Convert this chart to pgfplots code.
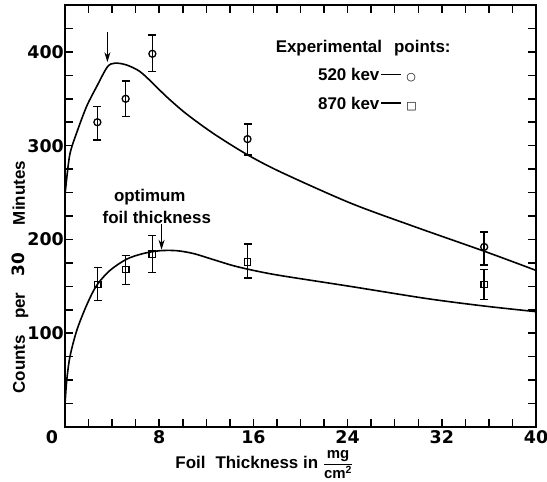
\documentclass[border=0pt]{standalone}
\usepackage{fontspec}
\setmainfont{Liberation Sans}
\newfontfamily\tickfont{DejaVu Sans}
\usepackage{amsmath}
\usepackage{pgfplots}
\pgfplotsset{compat=1.18}
\usetikzlibrary{arrows.meta}

\begin{document}
\begin{tikzpicture}[font=\bfseries\fontsize{17}{20}\selectfont]
\begin{axis}[
    scale only axis,
    width=471bp, height=422bp,
    xmin=0, xmax=40, ymin=0, ymax=450,
    axis line style={line width=2bp},
    xtick={0,8,...,40},
    xticklabels={\makebox[0pt][r]{0\hspace{7bp}},8,16,24,32,40},
    minor xtick={2,4,...,38},
    ytick={100,200,300,400},
    minor ytick={25,50,...,425},
    tick align=inside,
    major tick length=8bp, minor tick length=8bp,
    every tick/.append style={line width=1.5bp, black},
    /pgf/number format/assume math mode=true,
    ticklabel style={font=\tickfont\bfseries\fontsize{17.5}{17.5}\selectfont},
    yticklabel style={inner xsep=1bp},
    clip=false,
]
% fitted curves (traced)
\addplot[line width=1.6bp, smooth] coordinates {
    (0.02,250) (0.4,290) (1.0,314) (1.84,342) (2.69,363) (3.6,384) (4.25,388)
    (5.24,386) (6.37,379) (7.5,366) (8.64,352) (10.3,334) (12.6,313) (15.4,291)
    (18.3,272) (24.2,239) (29.6,214) (35.7,187) (40,167)};
\addplot[line width=1.6bp, smooth] coordinates {
    (0.02,28) (0.15,50) (0.42,75) (1.0,103) (1.84,130) (2.69,151) (3.82,167)
    (5.24,179) (6.65,185) (8.07,188) (9.49,188) (10.9,185) (12.6,178.5) (14.3,172)
    (16,167) (18.3,161.5) (24.2,150) (30.7,137) (35.6,129) (40,123)};

% 520 kev points
\addplot[only marks, mark=o, mark size=3.5bp,
    mark options={fill=white, line width=1.3bp},
    error bars/.cd, y dir=both, y explicit,
    error bar style={line width=1.5bp},
    error mark options={rotate=90, mark size=4bp, line width=1.5bp}]
coordinates {
    (2.75,325) += (0,17) -= (0,19)
    (5.15,350) += (0,19) -= (0,19)
    (7.42,398) += (0,20) -= (0,19)
    (15.5,307) += (0,16) -= (0,17)
    (35.6,192) += (0,16) -= (0,19)};

% 870 kev points
\addplot[only marks, mark=square, mark size=3.3bp,
    mark options={fill=white, line width=1.3bp},
    error bars/.cd, y dir=both, y explicit,
    error bar style={line width=1.5bp},
    error mark options={rotate=90, mark size=4bp, line width=1.5bp}]
coordinates {
    (2.77,152) += (0,18) -= (0,17)
    (5.15,168) += (0,15) -= (0,16)
    (7.42,184) += (0,20) -= (0,19)
    (15.5,176) += (0,19) -= (0,17)
    (35.6,152) += (0,16) -= (0,16)};

% arrows marking the maxima
\draw[line width=1.4bp, -{Stealth[length=10bp,width=6bp]}]
    (axis cs:3.6,421) -- (axis cs:3.6,389);
\draw[line width=1.4bp, -{Stealth[length=10bp,width=6bp]}]
    (axis cs:8.2,216) -- (axis cs:8.2,189);

\node[anchor=base] at (axis cs:7.2,240) {optimum};
\node[anchor=base] at (axis cs:7.8,217.5) {foil thickness};

% key
\node[anchor=base west] at (axis cs:17.6,399) {Experimental\hspace{12bp}points:};
\node[anchor=base west] at (axis cs:21.2,369.5)
    {520 kev\hspace{2bp}\rule[5bp]{20bp}{1.8bp}\hspace{5bp}{\tickfont\fontsize{11}{11}\selectfont ○}};
\node[anchor=base west] at (axis cs:21.2,339)
    {870 kev\hspace{2bp}\rule[5bp]{20bp}{1.8bp}\hspace{5bp}{\tickfont\fontsize{11}{11}\selectfont □}};

% axis titles
\node[anchor=base west] at ([yshift=-41bp]rel axis cs:0.227,0)
    {Foil\hspace{10bp}Thickness in {\fontsize{15}{15}\selectfont$\dfrac{\text{mg}}{\text{cm\textsuperscript{2}}}$}};
\node[rotate=90, anchor=base] at ([xshift=-40bp]rel axis cs:0,0.355)
    {Counts\hspace{16bp}per\hspace{16bp}{\tickfont 30}\hspace{28bp}Minutes};
\end{axis}
\pgfresetboundingbox
\path[use as bounding box] ([shift={(-65bp,-55bp)}]current axis.south west)
    rectangle ([shift={(11bp,5bp)}]current axis.north east);
\end{tikzpicture}
\end{document}
